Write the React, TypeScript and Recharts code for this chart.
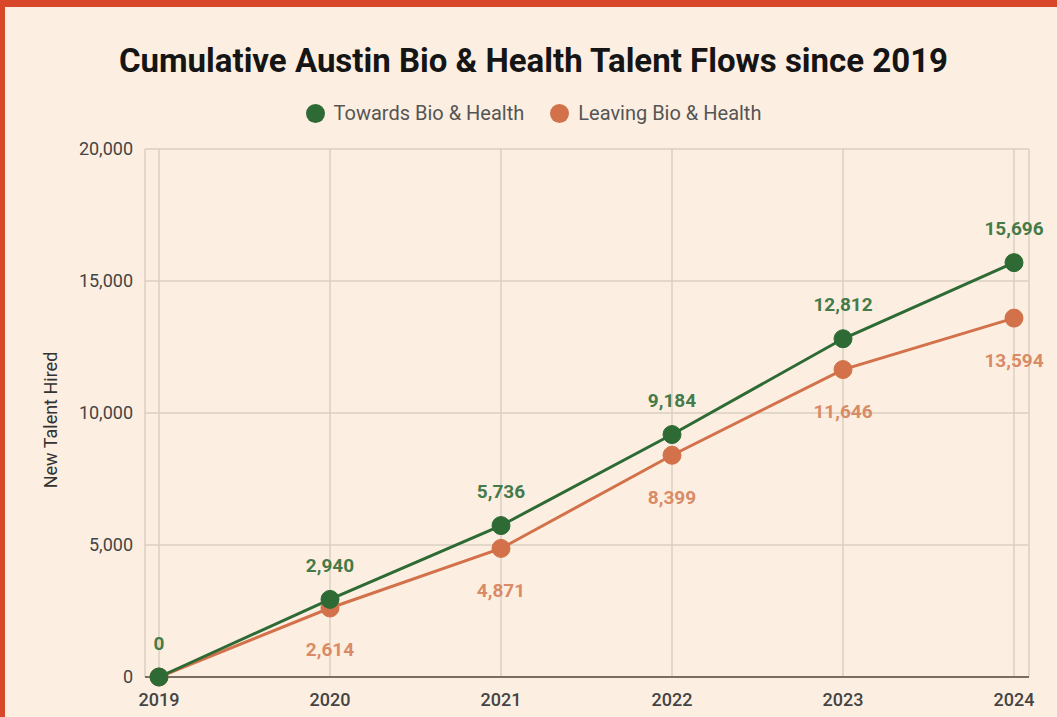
import React from 'react';
import { LineChart, Line, XAxis, YAxis, CartesianGrid, LabelList } from 'recharts';

const years = ['2019', '2020', '2021', '2022', '2023', '2024'];
const towards = [0, 2940, 5736, 9184, 12812, 15696];
const leaving = [0, 2614, 4871, 8399, 11646, 13594];
const yTicks = [0, 5000, 10000, 15000, 20000];

const colors = {
  bg: '#FCEFE1',
  border: '#D9472B',
  green: '#2D6A34',
  greenLabel: '#457A49',
  orange: '#D2714A',
  orangeLabel: '#D98A66',
  grid: '#DBCFC2',
  axis: '#7A6E64',
  text: '#444444',
};

const font = 'Roboto, "Noto Sans", sans-serif';

const data = years.map((year, i) => ({
  year,
  towards: towards[i],
  leaving: leaving[i],
}));

const fmt = (v: number) => v.toLocaleString('en-US');

const TopLabel = (props: any) => {
  const { x, y, value } = props;
  return (
    <text x={x} y={y - 34} textAnchor="middle" dominantBaseline="central"
      fill={colors.greenLabel} fontSize={19} fontWeight={700} fontFamily={font}>
      {fmt(value)}
    </text>
  );
};

const BottomLabel = (props: any) => {
  const { x, y, value, index } = props;
  if (index === 0) return null;
  return (
    <text x={x} y={y + 42} textAnchor="middle" dominantBaseline="central"
      fill={colors.orangeLabel} fontSize={19} fontWeight={700} fontFamily={font}>
      {fmt(value)}
    </text>
  );
};

const AxisTitle = (props: any) => {
  const { viewBox } = props;
  const cx = 50;
  const cy = viewBox.y + viewBox.height / 2 + 7;
  return (
    <text x={cx} y={cy} transform={`rotate(-90 ${cx} ${cy})`} textAnchor="middle"
      dominantBaseline="central" fill="#333" fontSize={18} fontFamily={font}>
      New Talent Hired
    </text>
  );
};

const legendItems = [
  { name: 'Towards Bio & Health', color: colors.green },
  { name: 'Leaving Bio & Health', color: colors.orange },
];

export default function App() {
  return (
    <div style={{
      position: 'absolute', left: 0, top: 0, width: 1057, height: 717,
      background: colors.bg, overflow: 'hidden', boxSizing: 'border-box',
      borderLeft: `5px solid ${colors.border}`, borderTop: `7px solid ${colors.border}`,
    }}>
      <div style={{
        position: 'absolute', left: -5, top: 34, width: 1067, textAlign: 'center',
        fontFamily: font, fontWeight: 700, fontSize: 33, color: '#151515',
      }}>
        Cumulative Austin Bio &amp; Health Talent Flows since 2019
      </div>
      {/* legend */}
      <div style={{
        position: 'absolute', left: -5, top: 94, width: 1067, display: 'flex', justifyContent: 'center',
        gap: 26, fontFamily: font, fontSize: 20, color: '#555',
      }}>
        {legendItems.map((item) => (
          <div key={item.name} style={{ display: 'flex', alignItems: 'center', gap: 9 }}>
            <span style={{ width: 19, height: 19, borderRadius: '50%', background: item.color, display: 'inline-block' }} />
            <span>{item.name}</span>
          </div>
        ))}
      </div>
      <div style={{ position: 'absolute', left: -5, top: -7 }}>
        <LineChart width={1057} height={717} data={data}
          margin={{ top: 149, right: 28, bottom: 0, left: 0 }}>
          <CartesianGrid stroke={colors.grid} strokeWidth={1.5} />
          <XAxis dataKey="year" padding={{ left: 14, right: 15 }} height={40}
            tickLine={false} axisLine={{ stroke: colors.axis, strokeWidth: 2 }}
            tickMargin={10}
            tick={{ fill: colors.text, fontSize: 18, fontFamily: font, fontWeight: 500 }} />
          <YAxis width={145} domain={[0, 20000]} ticks={yTicks} tickFormatter={fmt}
            axisLine={false} tickLine={false} tickMargin={6}
            tick={{ fill: colors.text, fontSize: 18, fontFamily: font }}
            label={<AxisTitle />} />
          <Line type="linear" dataKey="leaving" name="Leaving Bio & Health" stroke={colors.orange}
            strokeWidth={3} dot={{ r: 9, fill: colors.orange, stroke: colors.orange, strokeWidth: 1 }}
            activeDot={false} isAnimationActive={false}>
            <LabelList dataKey="leaving" content={<BottomLabel />} />
          </Line>
          <Line type="linear" dataKey="towards" name="Towards Bio & Health" stroke={colors.green}
            strokeWidth={3} dot={{ r: 9, fill: colors.green, stroke: colors.green, strokeWidth: 1 }}
            activeDot={false} isAnimationActive={false}>
            <LabelList dataKey="towards" content={<TopLabel />} />
          </Line>
        </LineChart>
      </div>
    </div>
  );
}
